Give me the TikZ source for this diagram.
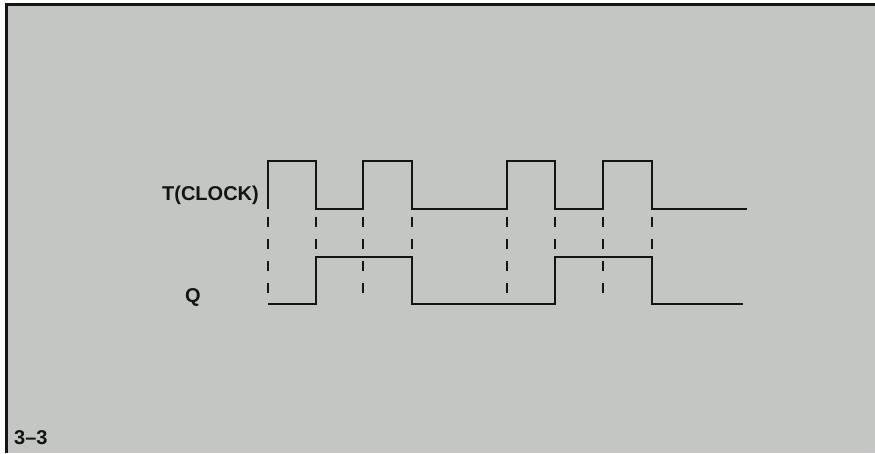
\documentclass[tikz,border=0pt]{standalone}
\usepackage{fontspec}
\setmainfont{Liberation Sans}
\definecolor{bggray}{RGB}{196,198,196}
\definecolor{ink}{RGB}{20,20,20}
\begin{document}
\begin{tikzpicture}[x=1pt,y=-1pt,
  wave/.style={line width=2.8pt,line join=miter,color=ink},
  guide/.style={line width=2.6pt,color=ink,dash pattern=on 10pt off 12pt},
  lbl/.style={font=\fontsize{20}{20}\selectfont\bfseries,text=ink,inner sep=0pt}]
\useasboundingbox (0,0) rectangle (875,453);
\fill[white] (0,0) rectangle (875,453);
\fill[bggray] (6,4) rectangle (875,453);
\draw[line width=3pt,ink] (6,453) -- (6,4) -- (875,4);
% clock
\draw[wave] (268,209) -- (268,161) -- (316,161) -- (316,209) -- (363,209) -- (363,161)
  -- (412,161) -- (412,209) -- (507,209) -- (507,161) -- (555,161) -- (555,209)
  -- (603,209) -- (603,161) -- (652,161) -- (652,209) -- (747,209);
% Q
\draw[wave] (268,304) -- (316,304) -- (316,257) -- (412,257) -- (412,304) -- (555,304)
  -- (555,257) -- (652,257) -- (652,304) -- (743,304);
% dashed guides
\foreach \x/\e in {268/300,316/252,363/300,412/252,507/300,555/252,603/300,652/252}
  \draw[guide] (\x,217) -- (\x,\e);
\node[lbl,anchor=east] (t) at (259,195) {T(CLOCK)};
\node[lbl] (q) at (193,297) {Q};
\node[lbl,anchor=west] (f) at (14,438) {3--3};
\end{tikzpicture}
\end{document}
